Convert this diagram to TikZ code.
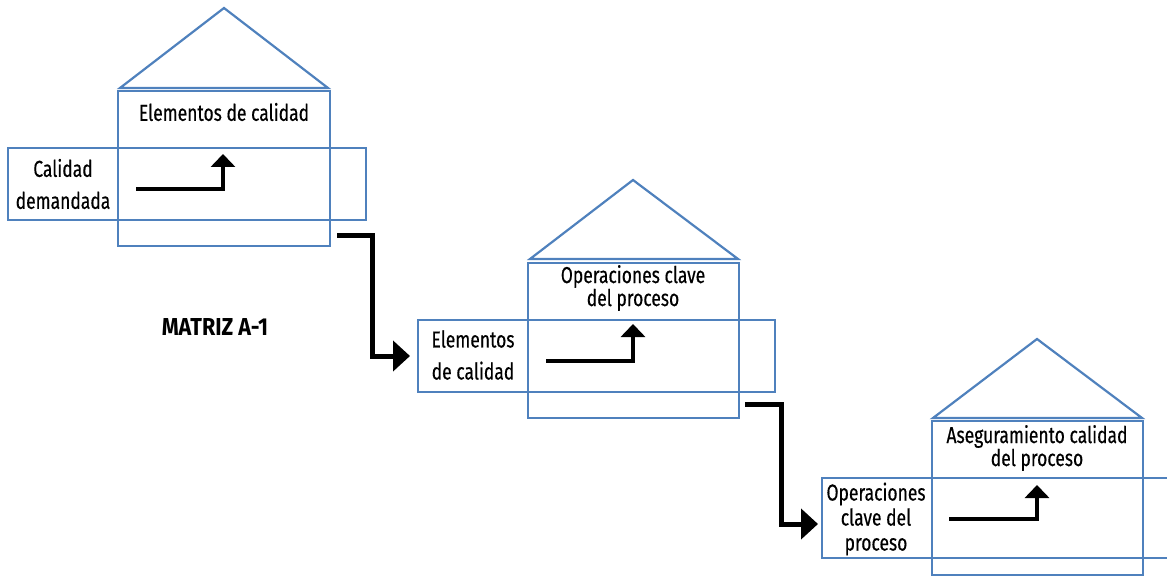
\documentclass[tikz,border=0pt]{standalone}
\usepackage{fontspec}
\setmainfont[FakeStretch=0.76, FakeBold=0.4]{Fira Sans}
\newfontfamily\matrizfont[FakeStretch=0.88]{Fira Sans}
\usetikzlibrary{arrows.meta}
\definecolor{boxblue}{RGB}{79,129,189}
\tikzset{
  frame/.style={draw=boxblue, line width=2.2pt, fill=none},
  roof/.style={draw=boxblue, line width=2.2pt, line join=miter},
  lbl/.style={align=center, font=\fontsize{23}{23}\selectfont, inner sep=0pt},
  lblwide/.style={align=center, font=\fontsize{23}{32}\selectfont, inner sep=0pt},
  inarrow/.style={draw=black, line width=3.5pt, line join=miter, -{Triangle[width=24pt,length=13pt]}},
  connector/.style={draw=black, line width=5pt, line join=miter, -{Triangle[width=30pt,length=17pt]}}
}
\begin{document}
\begin{tikzpicture}[x=1pt,y=-1pt]
\useasboundingbox (0,0) rectangle (1167,577);
% ---- house 1
\draw[frame] (118,91) rectangle (330,246);
\draw[frame] (8,148) rectangle (366,220);
\draw[roof] (120,88) -- (224,8) -- (328,88) -- cycle;
\node[lbl] (t1) at (224,112) {Elementos de calidad};
\node[lblwide] (l1) at (63,184) {Calidad\\demandada};
\coordinate (a1s) at (136,189);
\coordinate (a1e) at (223,154);
\draw[inarrow] (a1s) -| (a1e);
% ---- house 2
\draw[frame] (528,263) rectangle (739,418);
\draw[frame] (418,320) rectangle (775,392);
\coordinate (h2w) at (418,356);
\draw[roof] (530,259) -- (633,180) -- (738,259) -- cycle;
\node[lbl] (t2) at (633,288) {Operaciones clave\\del proceso};
\node[lblwide] (l2) at (473,355) {Elementos\\de calidad};
\coordinate (a2s) at (546,361);
\coordinate (a2e) at (633,324);
\draw[inarrow] (a2s) -| (a2e);
% ---- house 3
\draw[frame] (932,421) rectangle (1143,575);
\draw[frame] (822,478) rectangle (1180,558);
\coordinate (h3w) at (822,524);
\draw[roof] (933,418) -- (1037,339) -- (1142,418) -- cycle;
\node[lbl] (t3) at (1037,448) {Aseguramiento calidad\\del proceso};
\node[align=center, font=\fontsize{23}{25}\selectfont, inner sep=0pt] (l3) at (876,519) {Operaciones\\clave del\\proceso};
\coordinate (a3s) at (949,519);
\coordinate (a3e) at (1037,485);
\draw[inarrow] (a3s) -| (a3e);
% ---- label
\node[font=\matrizfont\fontsize{24.5}{26}\selectfont\bfseries, inner sep=0pt] (m) at (215,327) {MATRIZ A-1};
% ---- connectors
\coordinate (c1s) at (337,236);
\coordinate (c1m) at (372,236);
\draw[connector, shorten >=8pt] (c1s) -- (c1m) |- (h2w);
\coordinate (c2s) at (745,404);
\coordinate (c2m) at (781,404);
\draw[connector, shorten >=4pt] (c2s) -- (c2m) |- (h3w);
\end{tikzpicture}
\end{document}
